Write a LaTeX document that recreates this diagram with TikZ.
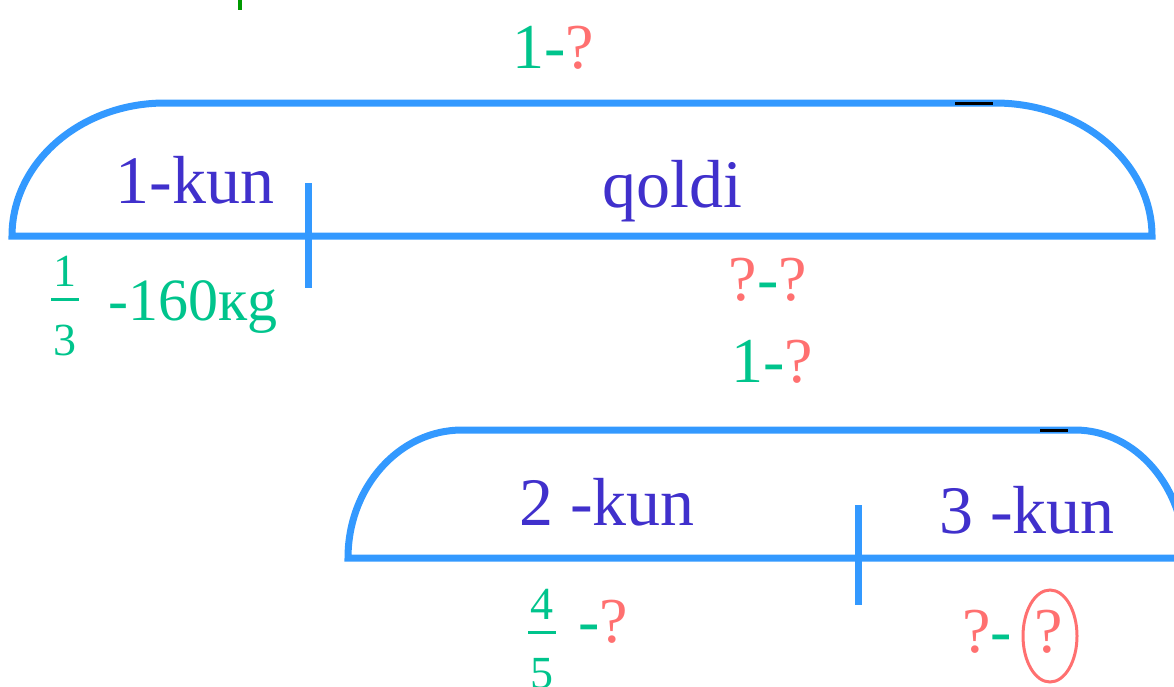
\documentclass[tikz,border=0pt]{standalone}
\usepackage{fontspec}
\setmainfont{Liberation Serif}
\usepackage{tikz}
\usetikzlibrary{shapes.geometric, positioning, calc}
\definecolor{lineblue}{RGB}{51,153,255}
\definecolor{kunblue}{RGB}{64,48,204}
\definecolor{numgreen}{RGB}{0,196,140}
\definecolor{askred}{RGB}{255,112,112}
\tikzstyle{segline} = [draw=lineblue, line width=7pt]
\tikzstyle{daylabel} = [anchor=base, inner sep=0pt, text=kunblue, font=\fontsize{68}{68}\selectfont]
\tikzstyle{sumlabel} = [anchor=base, inner sep=0pt, font=\fontsize{64}{64}\selectfont]
\tikzstyle{fraclabel} = [anchor=base, inner sep=0pt, text=numgreen, font=\fontsize{46}{46}\selectfont]
\tikzstyle{fracbar} = [draw=numgreen, line width=3pt]

\begin{document}
\begin{tikzpicture}[x=1pt, y=-1pt]
        \useasboundingbox (0,0) rectangle (1174,686);
        \clip (0,0) rectangle (1174,686);
        % top segment
        \coordinate (tl) at (12,236);
        \draw [segline] (tl) arc[start angle=180, end angle=270, x radius=153, y radius=133]
                -- (995,103) arc[start angle=270, end angle=360, x radius=157, y radius=133] -- cycle;
        \coordinate (cut1) at (308,183);
        \draw [segline] (cut1) -- ++(0,105);
        \draw [line width=3pt, black] (955,103) -- (993,103);
        \draw [line width=4pt, green!60!black] (240,0) -- (240,10);
        % bottom segment
        \coordinate (bl) at (348,558);
        \draw [segline] (bl) arc[start angle=180, end angle=270, x radius=114, y radius=128]
                -- (1075,430) arc[start angle=270, end angle=360, x radius=110, y radius=128] -- (1185,558) -- cycle;
        \coordinate (cut2) at (858,505);
        \draw [segline] (cut2) -- ++(0,100);
        \draw [line width=3pt, black] (1040,430) -- (1068,430);

        % labels
        \node (whole) [sumlabel] at (553,68) {\textcolor{numgreen}{1-}\textcolor{askred}{?}};
        \node (day1) [daylabel] at (195,203) {1-kun};
        \node (rest) [daylabel] at (672,207) {qoldi};
        \node (restq) [sumlabel] at (768,300) {\textcolor{askred}{?}\textcolor{numgreen}{-}\textcolor{askred}{?}};
        \node (restw) [sumlabel] at (772,382) {\textcolor{numgreen}{1-}\textcolor{askred}{?}};
        \node (num1) [fraclabel] at (65,286) {1};
        \node (den1) [fraclabel] at (65,355) {3};
        \draw [fracbar] (51,299) -- (79,299);
        \node (kg) [sumlabel, anchor=base west, text=numgreen, font=\fontsize{60}{60}\selectfont] at (108,320) {-160кg};
        \node (day2) [daylabel] at (607,525) {2 -kun};
        \node (day3) [daylabel] at (1027,533) {3 -kun};
        \node (num2) [fraclabel] at (542,619) {4};
        \node (den2) [fraclabel] at (542,688) {5};
        \draw [fracbar] (528,632) -- (556,632);
        \node (part2) [sumlabel, anchor=base west] at (578,642) {\textcolor{numgreen}{-}\textcolor{askred}{?}};
        \node (part3) [sumlabel, anchor=base east] at (1012,652) {\textcolor{askred}{?}\textcolor{numgreen}{-}};
        \node (ans) [sumlabel, text=askred] at (1049,652) {?};
        \node (ring) [ellipse, draw=askred, line width=3pt, minimum width=54pt, minimum height=92pt] at (1050,636) {};
    \end{tikzpicture}
\end{document}
